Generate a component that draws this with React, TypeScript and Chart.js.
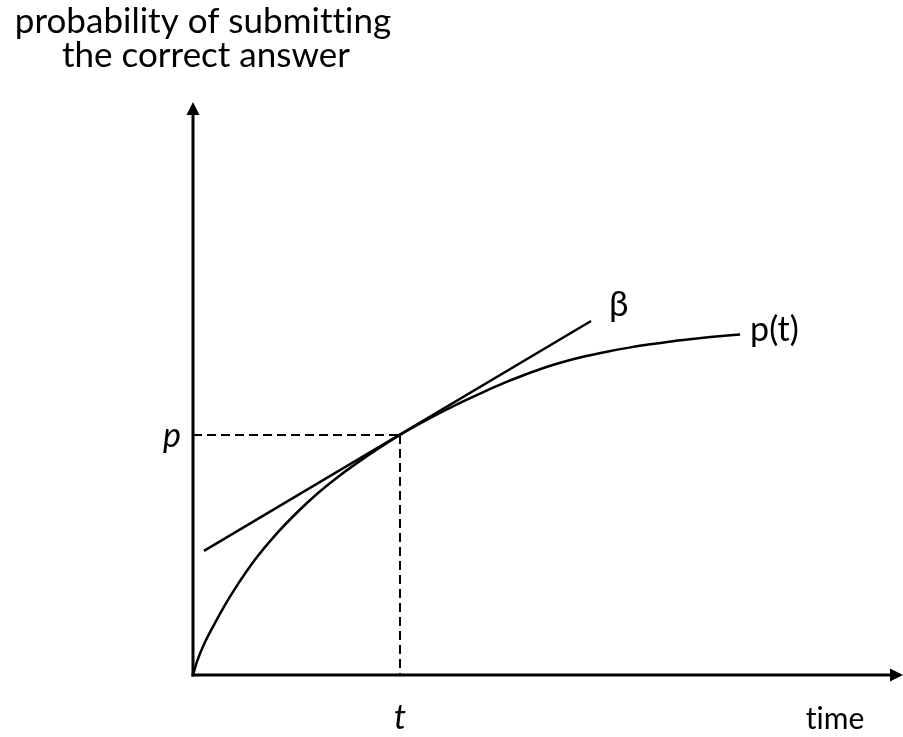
import React, { useEffect, useRef } from "react";
import { Chart, registerables } from "chart.js";

Chart.register(...registerables);

// p(t) curve, in units where the marked point (t, p) = (1, 1)
const curveX = [0, 0.02, 0.05, 0.1, 0.15, 0.2, 0.3, 0.4, 0.5, 0.6, 0.7, 0.8, 0.9, 1.0, 1.1, 1.2, 1.3, 1.4, 1.5, 1.6, 1.7, 1.8, 1.9, 2.0, 2.1, 2.2, 2.3, 2.4, 2.5, 2.643];
const curveY = [0, 0.058, 0.122, 0.207, 0.285, 0.356, 0.481, 0.585, 0.675, 0.755, 0.825, 0.888, 0.946, 1.0, 1.049, 1.095, 1.138, 1.178, 1.216, 1.25, 1.281, 1.307, 1.329, 1.347, 1.363, 1.377, 1.389, 1.399, 1.408, 1.419];

// tangent line (β) at the marked point
const tangentX = [0.053, 1.923];
const tangentY = [0.517, 1.475];

// the marked point
const markT = 1;
const markP = 1;

const yAxisTitle = ["probability of submitting", "the correct answer"];
const xAxisTitle = "time";
const pointLabelP = "p";
const pointLabelT = "t";
const tangentLabel = "β";
const curveLabel = "p(t)";

const X_MAX = 3.43;
const Y_MAX = 2.3875;

const FONT = 'Lato, "Open Sans", sans-serif';

const zip = (xs: number[], ys: number[]) => xs.map((x, i) => ({ x, y: ys[i] }));

const diagramPlugin = {
  id: "diagram",
  afterDraw(chart: any) {
    const ctx = chart.ctx as CanvasRenderingContext2D;
    const xs = chart.scales.x;
    const ys = chart.scales.y;
    const ox = xs.getPixelForValue(0);
    const oy = ys.getPixelForValue(0);
    const top = ys.getPixelForValue(Y_MAX);
    const right = xs.getPixelForValue(X_MAX);
    ctx.save();
    ctx.strokeStyle = "#000";
    ctx.fillStyle = "#000";
    ctx.lineWidth = 3;
    // y axis
    ctx.beginPath();
    ctx.moveTo(ox, oy + 1.5);
    ctx.lineTo(ox, top + 10);
    ctx.stroke();
    ctx.beginPath();
    ctx.moveTo(ox, top);
    ctx.lineTo(ox - 6.5, top + 13);
    ctx.lineTo(ox + 6.5, top + 13);
    ctx.closePath();
    ctx.fill();
    // x axis
    ctx.beginPath();
    ctx.moveTo(ox - 1.5, oy);
    ctx.lineTo(right - 10, oy);
    ctx.stroke();
    ctx.beginPath();
    ctx.moveTo(right, oy);
    ctx.lineTo(right - 13, oy - 6.5);
    ctx.lineTo(right - 13, oy + 6.5);
    ctx.closePath();
    ctx.fill();

    // texts
    (ctx as any).letterSpacing = "0.01px";
    ctx.textBaseline = "alphabetic";
    ctx.textAlign = "center";
    ctx.font = `35px ${FONT}`;
    ctx.fillText(yAxisTitle[0], 203, 33);
    ctx.fillText(yAxisTitle[1], 206, 67);
    ctx.font = `30px ${FONT}`;
    ctx.fillText(xAxisTitle, 835, 729);
    ctx.textAlign = "left";
    ctx.font = `35px ${FONT}`;
    ctx.fillText(tangentLabel, xs.getPixelForValue(tangentX[1]) + 18, ys.getPixelForValue(tangentY[1]) - 5);
    ctx.font = `34px ${FONT}`;
    ctx.fillText(curveLabel, xs.getPixelForValue(curveX[curveX.length - 1]) + 10, ys.getPixelForValue(curveY[curveY.length - 1]) + 7);
    ctx.font = `italic 34px ${FONT}`;
    ctx.textAlign = "center";
    ctx.fillText(pointLabelP, ox - 21, ys.getPixelForValue(markP) + 12);
    ctx.fillText(pointLabelT, xs.getPixelForValue(markT), 729);
    ctx.restore();
  },
};

export default function App() {
  const ref = useRef<HTMLCanvasElement>(null);
  useEffect(() => {
    if (!ref.current) return;
    const chart = new Chart(ref.current, {
      type: "scatter",
      data: {
        datasets: [
          {
            label: "p(t)",
            data: zip(curveX, curveY),
            showLine: true,
            borderColor: "#000",
            borderWidth: 2.5,
            pointRadius: 0,
            cubicInterpolationMode: "monotone",
            clip: false,
          } as any,
          {
            label: "β",
            data: zip(tangentX, tangentY),
            showLine: true,
            borderColor: "#000",
            borderWidth: 2.5,
            pointRadius: 0,
            clip: false,
          },
          {
            label: "p guide",
            data: [
              { x: 0, y: markP },
              { x: markT, y: markP },
            ],
            showLine: true,
            borderColor: "#000",
            borderWidth: 2,
            borderDash: [9, 5],
            pointRadius: 0,
            clip: false,
          },
          {
            label: "t guide",
            data: [
              { x: markT, y: markP },
              { x: markT, y: 0 },
            ],
            showLine: true,
            borderColor: "#000",
            borderWidth: 2,
            borderDash: [9, 5],
            pointRadius: 0,
            clip: false,
          },
        ],
      },
      options: {
        animation: false,
        responsive: false,
        devicePixelRatio: 1,
        layout: { padding: { left: 193, top: 102, right: 0, bottom: 62 } },
        scales: {
          x: { type: "linear", min: 0, max: X_MAX, display: false },
          y: { type: "linear", min: 0, max: Y_MAX, display: false },
        },
        plugins: { legend: { display: false }, tooltip: { enabled: false }, title: { display: false } },
      },
      plugins: [diagramPlugin],
    });
    return () => chart.destroy();
  }, []);
  return (
    <div style={{ position: "absolute", left: 0, top: 0, width: 903, height: 737, background: "#fff" }}>
      <canvas ref={ref} width={903} height={737} style={{ display: "block" }} />
    </div>
  );
}
